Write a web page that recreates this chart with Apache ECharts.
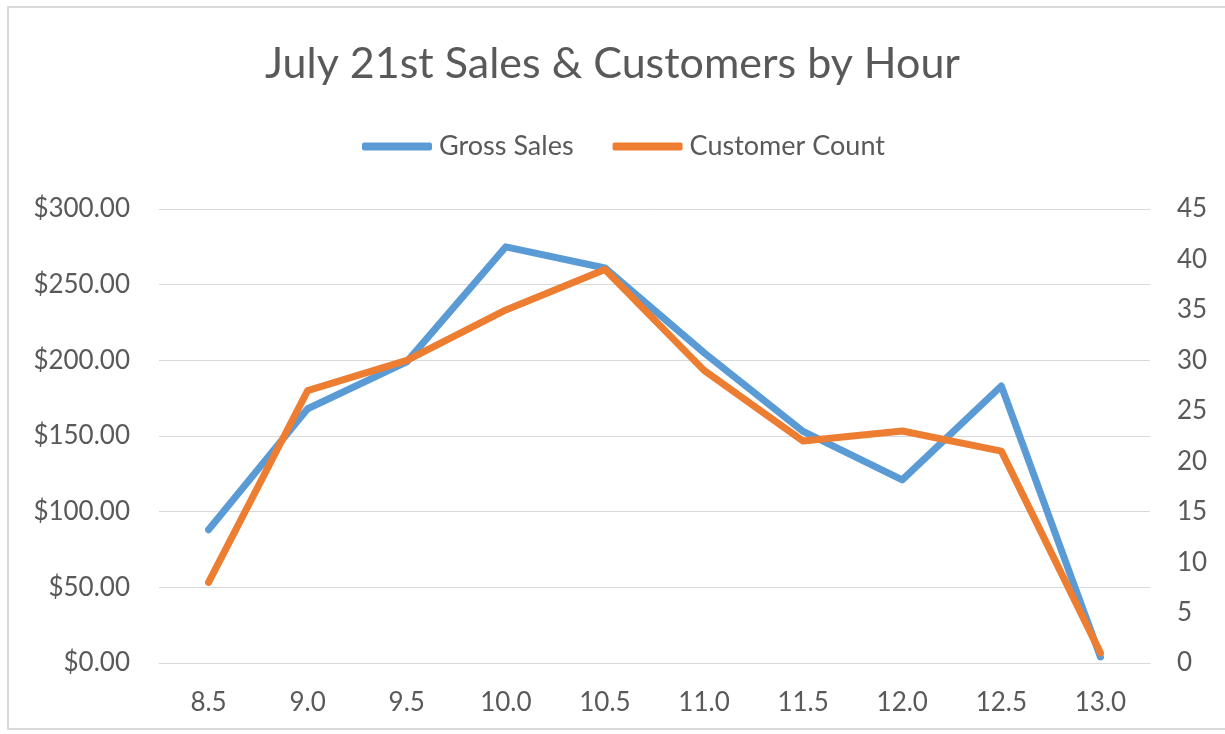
<!DOCTYPE html>
<html>
<head>
<meta charset="utf-8">
<script src="https://cdn.jsdelivr.net/npm/echarts@6/dist/echarts.min.js"></script>
<style>
	html, body { margin: 0; padding: 0; background: #fff; }
	#wrap { position: relative; width: 1225px; height: 734px; overflow: hidden; }
	#frame { position: absolute; left: 7px; top: 6px; width: 1240px; height: 724px; border: 2px solid #DADADA; box-sizing: border-box; }
	#chart { position: absolute; left: 0; top: 0; width: 1225px; height: 734px; }
</style>
</head>
<body>
<div id="wrap">
	<div id="frame"></div>
	<div id="chart"></div>
</div>
<script type="text/javascript">
// hours of the day
var hours = ['8.5', '9.0', '9.5', '10.0', '10.5', '11.0', '11.5', '12.0', '12.5', '13.0'];
// gross sales in dollars
var grossSales = [88, 168, 199, 275, 261, 205, 153, 121, 183, 4];
// number of customers
var customerCount = [8, 27, 30, 35, 39, 29, 22, 23, 21, 1];

var fontName = 'Lato, "Open Sans", sans-serif';
var textColor = '#595959';

var myChart = echarts.init(document.getElementById('chart'));
var options = {
	animation: false,
	title: {
		text: 'July 21st Sales & Customers by Hour',
		left: 'center',
		top: 38,
		textStyle: { fontFamily: fontName, fontSize: 43, fontWeight: 'normal', color: textColor }
	},
	legend: {
		top: 128,
		left: 357,
		itemWidth: 70,
		itemHeight: 8,
		itemGap: 39,
		icon: 'roundRect',
		textStyle: { fontFamily: fontName, fontSize: 27, color: textColor, padding: [0, 0, 0, 2] },
		data: ['Gross Sales', 'Customer Count']
	},
	grid: {
		left: 159,
		right: 75,
		top: 209,
		bottom: 71,
		containLabel: false,
		outerBoundsMode: 'none'
	},
	xAxis: {
		type: 'category',
		data: hours,
		boundaryGap: true,
		axisLine: { show: true, lineStyle: { color: '#D9D9D9', width: 1 } },
		axisTick: { show: false },
		axisLabel: { margin: 27, fontFamily: fontName, fontSize: 26, color: textColor }
	},
	yAxis: [
		{
			type: 'value',
			min: 0,
			max: 300,
			interval: 50,
			axisLine: { show: false },
			axisTick: { show: false },
			splitLine: { lineStyle: { color: '#D9D9D9', width: 1 } },
			axisLabel: {
				margin: 29,
				fontFamily: fontName,
				fontSize: 26,
				color: textColor,
				formatter: function (v) { return '$' + v.toFixed(2); }
			}
		},
		{
			type: 'value',
			min: 0,
			max: 45,
			interval: 5,
			axisLine: { show: false },
			axisTick: { show: false },
			splitLine: { show: false },
			axisLabel: { margin: 27, fontFamily: fontName, fontSize: 26, color: textColor }
		}
	],
	series: [
		{
			name: 'Gross Sales',
			type: 'line',
			yAxisIndex: 0,
			data: grossSales,
			symbol: 'none',
			color: '#5B9BD5',
			lineStyle: { width: 7, color: '#5B9BD5', cap: 'round', join: 'round' }
		},
		{
			name: 'Customer Count',
			type: 'line',
			yAxisIndex: 1,
			data: customerCount,
			symbol: 'none',
			color: '#ED7D31',
			lineStyle: { width: 7, color: '#ED7D31', cap: 'round', join: 'round' }
		}
	]
};
myChart.setOption(options);
</script>
</body>
</html>
